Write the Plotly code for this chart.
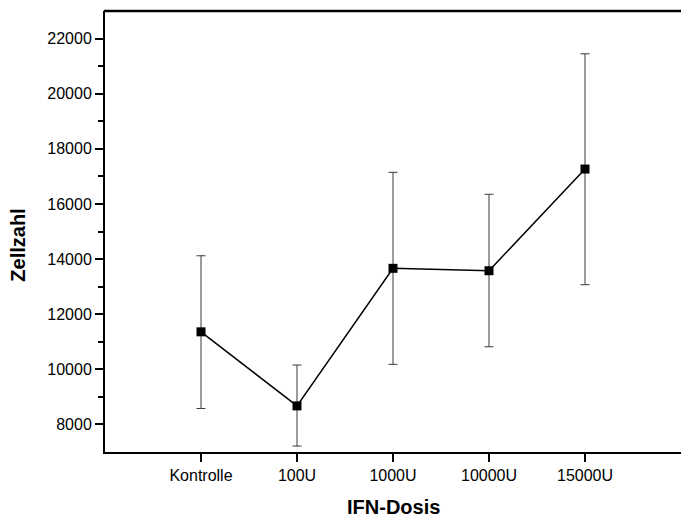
import plotly.graph_objects as go

categories = ["Kontrolle", "100U", "1000U", "10000U", "15000U"]
positions = [1, 2, 3, 4, 5]
means = [11360, 8673, 13664, 13577, 17266]
err_plus = [2760, 1483, 3483, 2774, 4181]
err_minus = [2781, 1458, 3483, 2760, 4196]

y_ticks = [8000, 10000, 12000, 14000, 16000, 18000, 20000, 22000]
y_minor = [9000, 11000, 13000, 15000, 17000, 19000, 21000]

font_family = "Liberation Sans, Arial, sans-serif"

W, H = 681, 517
ML, MT, MB = 105, 11, 65

fig = go.Figure()
fig.add_trace(go.Scatter(
    x=positions, y=means,
    mode="lines+markers",
    line=dict(color="black", width=1.5),
    marker=dict(symbol="square", size=9, color="black"),
    error_y=dict(type="data", symmetric=False, array=err_plus, arrayminus=err_minus,
                 color="#3a3a3a", thickness=1, width=4.5),
    showlegend=False,
))

x_max = (W - ML) / 96.0

fig.update_layout(
    width=W, height=H,
    margin=dict(l=ML, r=0, t=MT, b=MB, autoexpand=False),
    paper_bgcolor="white", plot_bgcolor="white",
    font=dict(family=font_family, size=16, color="black"),
    xaxis=dict(
        range=[0, x_max], tickmode="array", tickvals=positions, ticktext=categories,
        showline=True, linecolor="black", linewidth=2,
        ticks="outside", ticklen=8, tickwidth=2, tickcolor="black",
        showgrid=False, zeroline=False,
        tickfont=dict(size=16),
    ),
    yaxis=dict(
        range=[7000, 23000], tickmode="array", tickvals=y_ticks, tickformat="d",
        showline=True, linecolor="black", linewidth=2,
        ticks="outside", ticklen=8, tickwidth=2, tickcolor="black",
        showgrid=False, zeroline=False,
        minor=dict(tickmode="array", tickvals=y_minor,
                   ticks="outside", ticklen=5, tickwidth=2, tickcolor="black", showgrid=False),
        tickfont=dict(size=16),
    ),
    shapes=[
        dict(type="line", xref="paper", yref="paper", x0=-0.002, x1=1, y0=1, y1=1,
             line=dict(color="black", width=2.5)),
    ],
    annotations=[
        dict(text="<b>IFN-Dosis</b>", xref="paper", yref="paper", x=(393.7 - ML) / (W - ML), y=0,
             yshift=-55, xanchor="center", yanchor="middle", showarrow=False,
             font=dict(size=20, family=font_family)),
        dict(text="<b>Zellzahl</b>", xref="paper", yref="paper", x=0, xshift=-86.5,
             y=0.469, xanchor="center", yanchor="middle", showarrow=False,
             textangle=-90, font=dict(size=20, family=font_family)),
    ],
)

fig.write_html(
    "out.html",
    config={"displayModeBar": False},
    post_script="document.body.style.margin='0';document.body.style.overflow='hidden';",
)
